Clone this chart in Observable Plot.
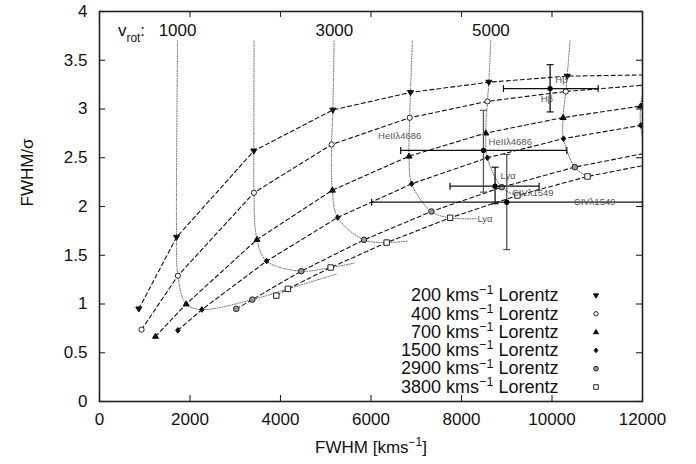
<!DOCTYPE html>
<html><head><meta charset="utf-8">
<script src="https://cdn.jsdelivr.net/npm/d3@7"></script>
<script src="https://cdn.jsdelivr.net/npm/@observablehq/plot@0.6"></script>
<style>
body{margin:0;background:#fff;}
#chart svg{font-family:"Liberation Sans",Arial,Helvetica,sans-serif;background:#fff;}
</style></head><body><div id="chart"></div>
<script>
// ---------- data ----------
const vRot = [500, 1000, 2000, 3000, 4000, 5000, 6000, 7000];
const lorentzWidths = [200, 400, 700, 1500, 2900, 3800];

const fwhm200  = [869, 1703, 3411, 5157, 6873, 8604, 10335, 12060];
const ratio200 = [0.95, 1.685, 2.57, 2.99, 3.17, 3.275, 3.337, 3.35];
const fwhm400  = [929, 1732, 3413, 5130, 6855, 8573, 10305, 12040];
const ratio400 = [0.737, 1.29, 2.141, 2.636, 2.91, 3.078, 3.18, 3.245];
const fwhm700  = [1238, 1916, 3480, 5146, 6841, 8536, 10246, 11960];
const ratio700 = [0.668, 1.0, 1.661, 2.167, 2.516, 2.753, 2.912, 3.03];
const fwhm1500  = [1732, 2263, 3693, 5263, 6900, 8573, 10254, 11960];
const ratio1500 = [0.73, 0.943, 1.44, 1.887, 2.233, 2.50, 2.696, 2.832];
const fwhm2900  = [3022, 3377, 4460, 5845, 7335, 8890, 10504, 12100];
const ratio2900 = [0.95, 1.045, 1.337, 1.658, 1.949, 2.198, 2.404, 2.55];
const fwhm3800  = [3907, 4164, 5108, 6347, 7748, 9236, 10785, 12350];
const ratio3800 = [1.086, 1.155, 1.374, 1.63, 1.884, 2.113, 2.308, 2.45];

// rotation curves (dotted): top start and far end, middle points come from the series above
const rotCurveV = [1000, 2000, 3000, 4000, 5000, 6000, 7000];
const rotTopX   = [1725, 3415, 5185, 6914, 8647, 10400, 12080];
const rotTopY   = [3.70, 3.70, 3.70, 3.70, 3.70, 3.70, 3.70];
const rotEndX   = [5256, 5624, 6804, 8350, 9450, null, null];
const rotEndY   = [1.31, 1.418, 1.645, 1.874, 2.115, null, null];

// v_rot annotations
const vrotLabelText = ["v_{rot}:", "1000", "3000", "5000"];
const vrotLabelX = [708, 1725, 5190, 8650];
const vrotLabelY = [3.80, 3.80, 3.80, 3.80];

// observed lines with error bars
const obsName = ["Hβ", "HeIIλ4686", "Lyα", "CIVλ1549"];
const obsX    = [9958, 8485, 8742, 9000];
const obsY    = [3.209, 2.575, 2.208, 2.044];
const obsXlo  = [8927, 6656, 7747, 6015];
const obsXhi  = [11020, 10327, 9715, 12000];
const obsYlo  = [2.97, 2.147, 2.028, 1.558];
const obsYhi  = [3.455, 2.987, 2.403, 2.534];

// line-name annotations
const noteText = ["Hβ", "Hβ", "HeIIλ4686", "HeIIλ4686", "Lyα", "Lyα", "CIVλ1549", "CIVλ1549"];
const noteX    = [10210, 9885, 6634, 9078, 9030, 8520, 9575, 10942];
const noteY    = [3.30, 3.106, 2.719, 2.667, 2.311, 1.874, 2.137, 2.044];

const xTicks = [0, 2000, 4000, 6000, 8000, 10000, 12000];
const yTicks = [0, 0.5, 1, 1.5, 2, 2.5, 3, 3.5, 4];

// ---------- tables ----------
const fwhmBy = {200: fwhm200, 400: fwhm400, 700: fwhm700, 1500: fwhm1500, 2900: fwhm2900, 3800: fwhm3800};
const ratioBy = {200: ratio200, 400: ratio400, 700: ratio700, 1500: ratio1500, 2900: ratio2900, 3800: ratio3800};
const seriesRows = [];
for (const L of lorentzWidths) vRot.forEach((v, i) => seriesRows.push({L, v, x: fwhmBy[L][i], y: ratioBy[L][i]}));

const rotRows = [];
rotCurveV.forEach((v, k) => {
  const i = vRot.indexOf(v);
  rotRows.push({v, x: rotTopX[k], y: rotTopY[k]});
  for (const L of lorentzWidths) rotRows.push({v, x: fwhmBy[L][i], y: ratioBy[L][i]});
  if (rotEndX[k] != null) rotRows.push({v, x: rotEndX[k], y: rotEndY[k]});
});

const obs = obsName.map((n, i) => ({n, x: obsX[i], y: obsY[i], xlo: obsXlo[i], xhi: obsXhi[i], ylo: obsYlo[i], yhi: obsYhi[i]}));
const notes = noteText.map((t, i) => ({t, x: noteX[i], y: noteY[i]}));
const vrotLabels = vrotLabelText.map((t, i) => ({t, x: vrotLabelX[i], y: vrotLabelY[i]}));

// ---------- layout ----------
const W = 696, H = 464, ML = 99, MR = 54, MT = 11, MB = 63;
const FW = W - ML - MR, FH = H - MT - MB, TICK = 6;

// ---------- symbols ----------
const rad = s => Math.sqrt(s / Math.PI);
const triDown = {draw(c, s) { const r = rad(s); c.moveTo(0, r); c.lineTo(-r * 0.95, -r * 0.6); c.lineTo(r * 0.95, -r * 0.6); c.closePath(); }};
const triUp = {draw(c, s) { const r = rad(s); c.moveTo(0, -r); c.lineTo(-r * 0.95, r * 0.6); c.lineTo(r * 0.95, r * 0.6); c.closePath(); }};
const diamond = {draw(c, s) { const r = rad(s); c.moveTo(0, -r); c.lineTo(r * 0.8, 0); c.lineTo(0, r); c.lineTo(-r * 0.8, 0); c.closePath(); }};
const square = {draw(c, s) { const r = rad(s) * 0.8; c.rect(-r, -r, 2 * r, 2 * r); }};
const vbar = {draw(c, s) { const r = rad(s); c.moveTo(0, -r); c.lineTo(0, r); }};
const hbar = {draw(c, s) { const r = rad(s); c.moveTo(-r, 0); c.lineTo(r, 0); }};

const style = {
  200:  {symbol: triDown, fill: "#111", stroke: "#111", r: 3.2},
  400:  {symbol: "circle", fill: "white", stroke: "#222", r: 2.6},
  700:  {symbol: triUp, fill: "#111", stroke: "#111", r: 3.2},
  1500: {symbol: diamond, fill: "#111", stroke: "#111", r: 2.8},
  2900: {symbol: "circle", fill: "#999", stroke: "#222", r: 2.8},
  3800: {symbol: square, fill: "white", stroke: "#222", r: 3.4}
};

const FS = 17, LFS = 18;
const marks = [
  Plot.line(rotRows, {x: "x", y: "y", z: "v", curve: "catmull-rom", stroke: "#666", strokeWidth: 1, strokeDasharray: "1,1.5", clip: true}),
  Plot.line(seriesRows, {x: "x", y: "y", z: "L", stroke: "#111", strokeWidth: 1.1, strokeDasharray: "4,3", clip: true}),
];
for (const L of lorentzWidths) {
  const s = style[L];
  marks.push(Plot.dot(seriesRows.filter(d => d.L === L), {x: "x", y: "y", symbol: s.symbol, r: s.r, fill: s.fill, stroke: s.stroke, strokeWidth: 1, clip: true}));
}
// observations
const vStroke = n => (n === "HeIIλ4686" || n === "CIVλ1549") ? "#555" : "#111";
marks.push(
  Plot.link(obs, {x1: "xlo", x2: "xhi", y1: "y", y2: "y", stroke: "#111", strokeWidth: 1.3, clip: true}),
  Plot.link(obs, {x1: "x", x2: "x", y1: "ylo", y2: "yhi", stroke: d => vStroke(d.n), strokeWidth: 1.3}),
  Plot.dot(obs, {x: "xlo", y: "y", symbol: vbar, r: 3.5, stroke: "#111", fill: "none", strokeWidth: 1.2}),
  Plot.dot(obs, {x: "xhi", y: "y", symbol: vbar, r: 3.5, stroke: "#111", fill: "none", strokeWidth: 1.2}),
  Plot.dot(obs, {x: "x", y: "ylo", symbol: hbar, r: 3.5, stroke: d => vStroke(d.n), fill: "none", strokeWidth: 1.2}),
  Plot.dot(obs, {x: "x", y: "yhi", symbol: hbar, r: 3.5, stroke: d => vStroke(d.n), fill: "none", strokeWidth: 1.2}),
  Plot.dot(obs, {x: "x", y: "y", r: 2.6, fill: "#000", stroke: "none"}),
  Plot.text(notes, {x: "x", y: "y", text: "t", fontSize: 9.5, fill: "#555", lineAnchor: "middle"}),
  Plot.text(vrotLabels, {x: "x", y: "y", text: "t", fontSize: FS, fill: "#111", lineAnchor: "middle"})
);
// legend
lorentzWidths.forEach((L, i) => {
  const dy = (295 + 18.3 * i) - (H - MB);
  const s = style[L];
  marks.push(Plot.text([`${L} kms^{−1} Lorentz`], {frameAnchor: "bottom-right", dx: -84, dy, textAnchor: "end", lineAnchor: "middle", fontSize: LFS, fill: "#111"}));
  marks.push(Plot.dot([L], {frameAnchor: "bottom-right", dx: -46.5, dy, symbol: s.symbol, r: s.r * 0.85, fill: s.fill, stroke: s.stroke, strokeWidth: 1}));
});
// axes: labels + inward ticks on all four sides + frame
marks.push(
  Plot.axisX(xTicks, {anchor: "bottom", tickSize: 0, tickPadding: 11, fontSize: FS, tickFormat: d => String(d), label: null, fill: "#111"}),
  Plot.axisY(yTicks, {anchor: "left", tickSize: 0, tickPadding: 12, fontSize: FS, tickFormat: d => String(d), label: null, fill: "#111"}),
  Plot.ruleY(yTicks, {y: d => d, insetRight: FW - TICK, stroke: "#222", strokeWidth: 1.1}),
  Plot.ruleY(yTicks, {y: d => d, insetLeft: FW - TICK, stroke: "#222", strokeWidth: 1.1}),
  Plot.ruleX(xTicks, {x: d => d, insetTop: FH - TICK, stroke: "#222", strokeWidth: 1.1}),
  Plot.ruleX(xTicks, {x: d => d, insetBottom: FH - TICK, stroke: "#222", strokeWidth: 1.1}),
  Plot.frame({stroke: "#222", strokeWidth: 1.6}),
  Plot.text(["FWHM/σ"], {frameAnchor: "left", dx: -72, rotate: -90, fontSize: FS, fill: "#111"}),
  Plot.text(["FWHM [kms^{−1}]"], {frameAnchor: "bottom", dy: 46, fontSize: FS, fill: "#111", lineAnchor: "middle"})
);

const chart = Plot.plot({
  width: W, height: H,
  marginLeft: ML, marginRight: MR, marginTop: MT, marginBottom: MB,
  x: {domain: [0, 12000]},
  y: {domain: [0, 4]},
  style: {fontFamily: '"Liberation Sans", Arial, sans-serif', background: "white", overflow: "visible"},
  marks
});

// rich text: ^{..} superscript, _{..} subscript
function richify(svg) {
  const ns = "http://www.w3.org/2000/svg";
  svg.querySelectorAll("text").forEach(t => {
    const s = t.textContent;
    if (!/[\^_]\{/.test(s)) return;
    const g = t.closest("[font-size]");
    const fs = parseFloat(t.getAttribute("font-size") || (g && g.getAttribute("font-size"))) || FS;
    while (t.firstChild) t.removeChild(t.firstChild);
    const re = /([\^_])\{([^}]*)\}/g;
    let last = 0, m, pending = 0;
    const add = (str, opts) => {
      if (!str) return;
      const ts = document.createElementNS(ns, "tspan");
      ts.textContent = str;
      let dy = pending;
      if (opts) { dy += opts.shift; ts.setAttribute("font-size", fs * 0.7); }
      if (dy) ts.setAttribute("dy", dy);
      pending = opts ? -opts.shift : 0;
      t.appendChild(ts);
    };
    while ((m = re.exec(s))) {
      add(s.slice(last, m.index));
      add(m[2], {shift: m[1] === "^" ? -0.38 * fs : 0.3 * fs});
      last = re.lastIndex;
    }
    add(s.slice(last));
  });
}
richify(chart);
document.getElementById("chart").appendChild(chart);
</script></body></html>
